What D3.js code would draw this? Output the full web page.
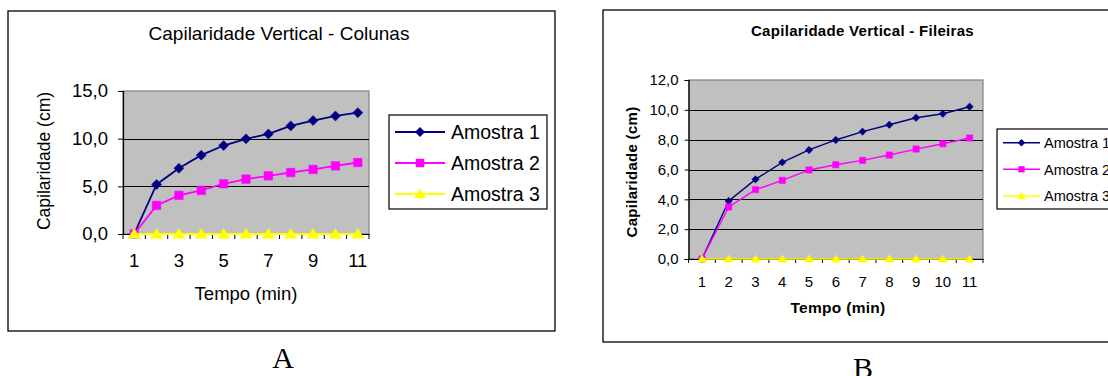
<!DOCTYPE html>
<html>
<head>
<meta charset="utf-8">
<script src="https://cdn.jsdelivr.net/npm/d3@7"></script>
<style>
  body { margin: 0; background: #fff; overflow: hidden; }
  svg { display: block; font-family: "Liberation Sans", Arial, sans-serif; }
</style>
</head>
<body>
<div id="chart"></div>
<script>
// data
var tempo = [1, 2, 3, 4, 5, 6, 7, 8, 9, 10, 11];
var seriesNames = ["Amostra 1", "Amostra 2", "Amostra 3"];

var colunasA1 = [0, 5.2, 6.9, 8.27, 9.28, 9.98, 10.5, 11.34, 11.9, 12.38, 12.73];
var colunasA2 = [0, 3.0, 4.05, 4.57, 5.27, 5.76, 6.1, 6.45, 6.77, 7.15, 7.5];
var colunasA3 = [0, 0, 0, 0, 0, 0, 0, 0, 0, 0, 0];

var fileirasA1 = [0, 3.89, 5.34, 6.48, 7.31, 7.98, 8.54, 9.0, 9.47, 9.74, 10.21];
var fileirasA2 = [0, 3.49, 4.65, 5.27, 5.97, 6.32, 6.61, 6.97, 7.37, 7.73, 8.11];
var fileirasA3 = [0, 0, 0, 0, 0, 0, 0, 0, 0, 0, 0];

var colunasTicks = [0, 5, 10, 15];
var fileirasTicks = [0, 2, 4, 6, 8, 10, 12];
var colunasXLabels = [1, 3, 5, 7, 9, 11];
var fileirasXLabels = tempo;

var colors = ["#000080", "#ff00ff", "#ffff00"];
var fmt = function (d) { return d3.format(".1f")(d).replace(".", ","); };

// marker shapes, Excel style
function marker(type, s) {
  if (type === 0) return "M0," + (-s) + "L" + s + ",0L0," + s + "L" + (-s) + ",0Z";
  if (type === 1) {
    var q = s * 0.85;
    return "M" + (-q) + "," + (-q) + "h" + 2 * q + "v" + 2 * q + "h" + (-2 * q) + "Z";
  }
  return "M0," + (-s * 1.1) + "L" + s * 1.2 + "," + s * 0.85 + "L" + (-s * 1.2) + "," + s * 0.85 + "Z";
}

var svg = d3.select("#chart").append("svg").attr("width", 1108).attr("height", 376);

function drawChart(c) {
  var g = svg.append("g");

  g.append("rect")
    .attr("x", c.frame[0]).attr("y", c.frame[1])
    .attr("width", c.frame[2]).attr("height", c.frame[3])
    .attr("fill", "#fff").attr("stroke", "#000").attr("stroke-width", 1.3);

  var x = d3.scaleBand().domain(tempo).range([c.plot[0], c.plot[1]]).padding(0);
  var y = d3.scaleLinear().domain([0, c.yMax]).range([c.plot[3], c.plot[2]]);

  g.append("rect")
    .attr("x", c.plot[0]).attr("y", c.plot[2])
    .attr("width", c.plot[1] - c.plot[0]).attr("height", c.plot[3] - c.plot[2])
    .attr("fill", "#c0c0c0").attr("stroke", "#808080").attr("stroke-width", 1.2);

  // grid lines
  g.selectAll(".grid")
    .data(c.yTicks.filter(function (d) { return d > 0 && d < c.yMax; }))
    .enter().append("line")
    .attr("x1", c.plot[0]).attr("x2", c.plot[1])
    .attr("y1", function (d) { return Math.round(y(d)) + 0.5; })
    .attr("y2", function (d) { return Math.round(y(d)) + 0.5; })
    .attr("stroke", "#000").attr("stroke-width", 1);

  var yAxis = g.append("g")
    .attr("transform", "translate(" + c.plot[0] + ",0)")
    .call(d3.axisLeft(y).tickValues(c.yTicks).tickFormat(fmt)
      .tickSize(c.tickLen).tickPadding(c.yPad));
  yAxis.selectAll("text").attr("font-size", c.tickFont).attr("fill", "#000")
    .attr("font-family", "Liberation Sans, Arial, sans-serif");
  yAxis.select(".domain").attr("stroke", "#000").attr("stroke-width", 1.2);

  var xAxis = g.append("g")
    .attr("transform", "translate(0," + c.plot[3] + ")")
    .call(d3.axisBottom(x).tickValues(c.xLabels).tickSize(0).tickPadding(c.xPad));
  xAxis.selectAll("text").attr("font-size", c.tickFont).attr("fill", "#000")
    .attr("font-family", "Liberation Sans, Arial, sans-serif");
  xAxis.select(".domain").attr("stroke", "#000").attr("stroke-width", 1.2);

  // tick marks between categories
  var bounds = tempo.map(function (d) { return x(d); }).concat([x(tempo[tempo.length - 1]) + x.bandwidth()]);
  g.selectAll(".xtick").data(bounds).enter().append("line")
    .attr("x1", function (d) { return d; }).attr("x2", function (d) { return d; })
    .attr("y1", c.plot[3]).attr("y2", c.plot[3] + c.tickLen)
    .attr("stroke", "#000");

  var line = d3.line()
    .x(function (d, i) { return x(tempo[i]) + x.bandwidth() / 2; })
    .y(function (d) { return y(d); });

  c.series.forEach(function (s, k) {
    g.append("path").datum(s).attr("d", line)
      .attr("fill", "none").attr("stroke", colors[k]).attr("stroke-width", c.lineW);
    g.selectAll(".m" + k).data(s).enter().append("path")
      .attr("transform", function (d, i) {
        return "translate(" + (x(tempo[i]) + x.bandwidth() / 2) + "," + y(d) + ")";
      })
      .attr("d", marker(k, c.mk)).attr("fill", colors[k]).attr("stroke", colors[k]).attr("stroke-width", 0.5);
  });

  // titles
  g.append("text").attr("x", c.title[0]).attr("y", c.title[1])
    .attr("text-anchor", "middle").attr("font-size", c.titleFont)
    .attr("font-weight", c.bold ? "bold" : "normal").attr("letter-spacing", c.spacing)
    .text(c.titleText);
  g.append("text").attr("x", c.xTitle[0]).attr("y", c.xTitle[1])
    .attr("text-anchor", "middle").attr("font-size", c.axisFont)
    .attr("font-weight", c.bold ? "bold" : "normal").attr("letter-spacing", c.spacing)
    .text("Tempo (min)");
  g.append("text")
    .attr("transform", "translate(" + c.yTitle[0] + "," + c.yTitle[1] + ") rotate(-90)")
    .attr("text-anchor", "middle").attr("font-size", c.yAxisFont)
    .attr("font-weight", c.bold ? "bold" : "normal").attr("letter-spacing", c.spacing)
    .text("Capilaridade (cm)");

  // legend
  var L = c.legend;
  g.append("rect").attr("x", L.x).attr("y", L.y).attr("width", L.w).attr("height", L.h)
    .attr("fill", "#fff").attr("stroke", "#000").attr("stroke-width", 1.2);
  seriesNames.forEach(function (n, k) {
    var ly = L.y + L.rows[k];
    g.append("line").attr("x1", L.x + L.l0).attr("x2", L.x + L.l1)
      .attr("y1", ly).attr("y2", ly).attr("stroke", colors[k]).attr("stroke-width", c.lineW);
    g.append("path").attr("transform", "translate(" + (L.x + (L.l0 + L.l1) / 2) + "," + ly + ")")
      .attr("d", marker(k, c.mk)).attr("fill", colors[k]);
    g.append("text").attr("x", L.x + L.tx).attr("y", ly).attr("dy", "0.36em")
      .attr("font-size", L.font).text(n);
  });

  svg.append("text").attr("x", c.letter[0]).attr("y", c.letter[1])
    .attr("text-anchor", "middle").attr("font-family", "Liberation Serif, Times New Roman, serif")
    .attr("font-size", 30).text(c.letterText);
}

drawChart({
  frame: [8, 11, 547, 320],
  plot: [123, 369, 91, 234],
  yMax: 15, yTicks: colunasTicks, xLabels: colunasXLabels,
  series: [colunasA1, colunasA2, colunasA3],
  tickLen: 5, yPad: 10, xPad: 20, tickFont: 18.5,
  lineW: 1.8, mk: 5,
  bold: false, spacing: 0,
  titleText: "Capilaridade Vertical - Colunas", title: [279, 39.5], titleFont: 19,
  xTitle: [246, 300], axisFont: 18.5,
  yTitle: [50, 161], yAxisFont: 17.5,
  legend: { x: 389, y: 115, w: 158, h: 94, rows: [17, 48, 79], l0: 6, l1: 56, tx: 62, font: 19.5 },
  letter: [283, 368], letterText: "A"
});

drawChart({
  frame: [603, 10, 600, 332],
  plot: [688.6, 983, 80, 259],
  yMax: 12, yTicks: fileirasTicks, xLabels: fileirasXLabels,
  series: [fileirasA1, fileirasA2, fileirasA3],
  tickLen: 4, yPad: 6, xPad: 17.5, tickFont: 15,
  lineW: 1.4, mk: 3.7,
  bold: true, spacing: 0.3,
  titleText: "Capilaridade Vertical - Fileiras", title: [862.5, 36], titleFont: 15,
  xTitle: [838, 313], axisFont: 15.5,
  yTitle: [637, 172], yAxisFont: 15,
  legend: { x: 997, y: 129, w: 160, h: 80, rows: [13.7, 40.3, 67], l0: 6, l1: 43, tx: 47, font: 14.5 },
  letter: [863, 378], letterText: "B"
});
</script>
</body>
</html>
